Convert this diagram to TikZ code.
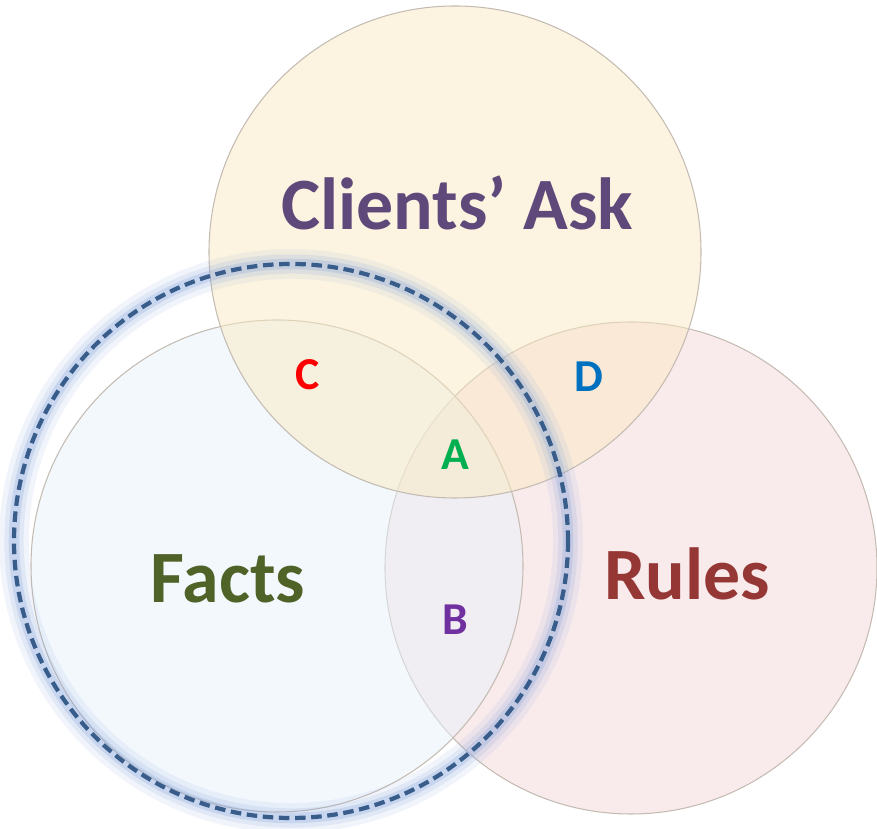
\documentclass[tikz,border=0pt]{standalone}
\usepackage{fontspec}
\setmainfont{Carlito}
\usepackage{tikz}
\usetikzlibrary{positioning}
\definecolor{askfill}{HTML}{F9E9C1}
\definecolor{factfill}{HTML}{E7F1FB}
\definecolor{rulefill}{HTML}{F3D5D9}
\definecolor{rimgray}{HTML}{C4BCB2}
\definecolor{dashblue}{HTML}{385D8A}
\definecolor{glowblue}{HTML}{8FAADC}
\definecolor{askpurple}{HTML}{5F497A}
\definecolor{factgreen}{HTML}{4F6228}
\definecolor{rulered}{HTML}{953735}
\tikzstyle{set} = [circle, draw=rimgray, line width=0.6pt, inner sep=0pt, minimum size=9.84cm, fill opacity=0.5]
\tikzstyle{bigtext} = [anchor=base, font=\fontsize{42}{48}\selectfont\bfseries]
\tikzstyle{zone} = [anchor=base, font=\fontsize{26}{30}\selectfont\bfseries]
\tikzstyle{scopering} = [circle, inner sep=0pt, minimum size=11.08cm]

\begin{document}
\begin{tikzpicture}
    \useasboundingbox (0,0) rectangle (17.54,16.58);
    % the three sets
    \node[set, fill=rulefill] (rules) at (12.62,5.22) {};
    \node[set, fill=factfill] (facts) at (5.54,5.26) {};
    \node[set, fill=askfill] (ask) at (9.10,11.54) {};
    % ring round the facts
    \node[scopering, draw=glowblue, line width=17pt, draw opacity=0.12] (glow) at (5.82,5.76) {};
    \node[scopering, draw=glowblue, line width=11pt, draw opacity=0.18] (halo) at (glow) {};
    \node[scopering, draw=glowblue, line width=6pt, draw opacity=0.3] (rim) at (glow) {};
    \node[scopering, draw=dashblue, line width=2.4pt, dash pattern=on 6pt off 3.2pt] (ring) at (glow) {};
    % set names
    \node[bigtext, text=askpurple] (asklbl) at (9.14,11.98) {Clients’ Ask};
    \node[bigtext, text=factgreen] (factlbl) at (4.56,4.52) {Facts};
    \node[bigtext, text=rulered] (rulelbl) at (13.74,4.58) {Rules};
    % overlap zones
    \node[zone, text=red] (zc) at (6.16,8.78) {C};
    \node[zone, text={rgb,255:red,0;green,112;blue,192}] (zd) at (11.78,8.74) {D};
    \node[zone, text={rgb,255:red,0;green,176;blue,80}] (za) at (9.10,7.18) {A};
    \node[zone, text={rgb,255:red,112;green,48;blue,160}] (zb) at (9.10,3.88) {B};
\end{tikzpicture}
\end{document}
